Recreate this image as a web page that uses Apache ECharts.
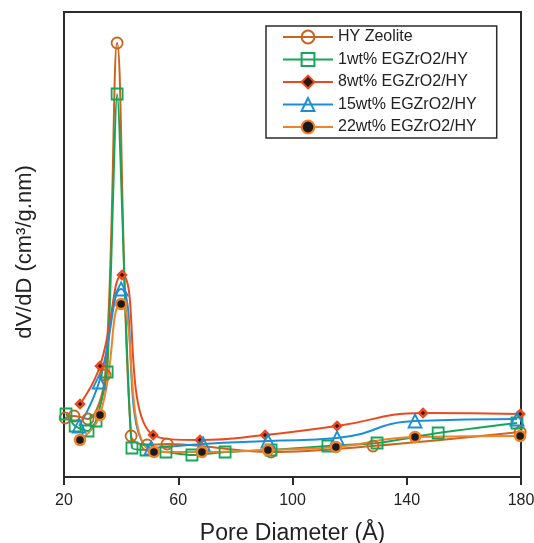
<!DOCTYPE html>
<html>
<head>
<meta charset="utf-8">
<script src="https://cdn.jsdelivr.net/npm/echarts@6/dist/echarts.min.js"></script>
<style>html,body{margin:0;padding:0;background:#fff;}#c{width:534px;height:543px;}</style>
</head>
<body>
<div id="c"></div>
<script>
// x tick labels
const xTicks = [20, 60, 100, 140, 180];
const seriesNames = ['HY Zeolite', '1wt% EGZrO2/HY', '8wt% EGZrO2/HY', '15wt% EGZrO2/HY', '22wt% EGZrO2/HY'];

// Pore diameter (Å) and dV/dD (arbitrary units) per sample
const hyX = [20.4, 23.5, 28.4, 34.4, 38.6, 43.5, 49.1, 56.1, 92.5, 128.2, 179.7];
const hyY = [0.59, 0.61, 0.58, 1.02, 4.34, 0.41, 0.32, 0.33, 0.25, 0.31, 0.45];

const w1X = [20.7, 23.9, 28.4, 31.2, 35.1, 38.6, 43.8, 48.7, 55.7, 64.8, 76.4, 92.5, 112.4, 129.6, 151.0, 178.6];
const w1Y = [0.63, 0.51, 0.46, 0.56, 1.05, 3.83, 0.29, 0.27, 0.25, 0.22, 0.25, 0.27, 0.31, 0.34, 0.44, 0.54];

const w8X = [25.6, 32.6, 40.3, 51.2, 67.6, 90.4, 115.6, 145.7, 179.7];
const w8Y = [0.73, 1.11, 2.02, 0.42, 0.37, 0.42, 0.51, 0.64, 0.63];

const w15X = [25.3, 32.3, 40.0, 50.5, 68.7, 91.4, 115.6, 142.9, 178.6];
const w15Y = [0.51, 0.95, 1.88, 0.29, 0.33, 0.36, 0.39, 0.56, 0.58];

const w22X = [25.6, 32.6, 40.0, 51.5, 68.3, 91.4, 115.2, 142.9, 179.7];
const w22Y = [0.37, 0.62, 1.73, 0.25, 0.25, 0.27, 0.30, 0.40, 0.41];

const pairs = (xs, ys) => xs.map((x, i) => [x, ys[i]]);

const colors = ['#C9651F', '#17A55A', '#EC4A1E', '#1A8FD6', '#F0822A'];
const FONT = 'Liberation Sans, Arial, sans-serif';

const chart = echarts.init(document.getElementById('c'), null, {renderer: 'canvas'});
chart.setOption({
  animation: false,
  backgroundColor: '#fff',
  textStyle: {fontFamily: FONT},
  grid: {left: 64, right: 13, top: 12, bottom: 66, containLabel: false, outerBoundsMode: 'none',
         show: true, borderColor: '#2b2b2b', borderWidth: 2},
  legend: {
    orient: 'vertical', left: 266, top: 26,
    itemWidth: 50, itemHeight: 16, itemGap: 6.5,
    padding: [3, 20, 3, 16],
    borderColor: '#2b2b2b', borderWidth: 1.5, borderRadius: 0,
    textStyle: {fontSize: 16, color: '#222', fontFamily: FONT},
    data: seriesNames
  },
  graphic: [{
    type: 'text', x: 25, y: 252, rotation: Math.PI / 2,
    style: {text: 'dV/dD (cm³/g.nm)', font: '22px ' + FONT, fill: '#222',
            textAlign: 'center', textVerticalAlign: 'middle'}
  }],
  xAxis: {
    type: 'value', min: 20, max: 180, interval: 40,
    name: 'Pore Diameter (Å)', nameLocation: 'middle', nameGap: 45,
    nameTextStyle: {fontSize: 23, color: '#222'},
    axisLine: {show: true, lineStyle: {color: '#2b2b2b', width: 2}},
    axisTick: {show: true, length: 8, lineStyle: {color: '#2b2b2b', width: 2}},
    axisLabel: {fontSize: 16, color: '#222', margin: 16,
      formatter: v => xTicks.includes(v) ? String(v) : ''},
    splitLine: {show: false}
  },
  yAxis: {
    type: 'value', min: 0, max: 4.65,
    axisLine: {show: true, lineStyle: {color: '#2b2b2b', width: 2}},
    axisTick: {show: false}, axisLabel: {show: false}, splitLine: {show: false}
  },
  series: [
    {name: seriesNames[0], type: 'line', smooth: 0.35, data: pairs(hyX, hyY),
     symbol: 'circle', symbolSize: 11,
     lineStyle: {color: colors[0], width: 2},
     itemStyle: {color: 'rgba(255,255,255,0)', borderColor: colors[0], borderWidth: 1.8}},
    {name: seriesNames[1], type: 'line', smooth: 0.2, data: pairs(w1X, w1Y),
     symbol: 'rect', symbolSize: 11,
     lineStyle: {color: colors[1], width: 2},
     itemStyle: {color: 'rgba(255,255,255,0)', borderColor: colors[1], borderWidth: 1.8}},
    {name: seriesNames[2], type: 'line', smooth: 0.5, data: pairs(w8X, w8Y),
     symbol: 'diamond', symbolSize: 8,
     lineStyle: {color: colors[2], width: 2},
     itemStyle: {color: '#2a1712', borderColor: colors[2], borderWidth: 2.5}},
    {name: seriesNames[3], type: 'line', smooth: 0.5, data: pairs(w15X, w15Y),
     symbol: 'triangle', symbolSize: 13,
     lineStyle: {color: colors[3], width: 2},
     itemStyle: {color: 'rgba(255,255,255,0)', borderColor: colors[3], borderWidth: 1.8}},
    {name: seriesNames[4], type: 'line', smooth: 0.5, data: pairs(w22X, w22Y),
     symbol: 'circle', symbolSize: 10,
     lineStyle: {color: colors[4], width: 2},
     itemStyle: {color: '#1a1a1a', borderColor: colors[4], borderWidth: 2.5}}
  ]
});
</script>
</body>
</html>
